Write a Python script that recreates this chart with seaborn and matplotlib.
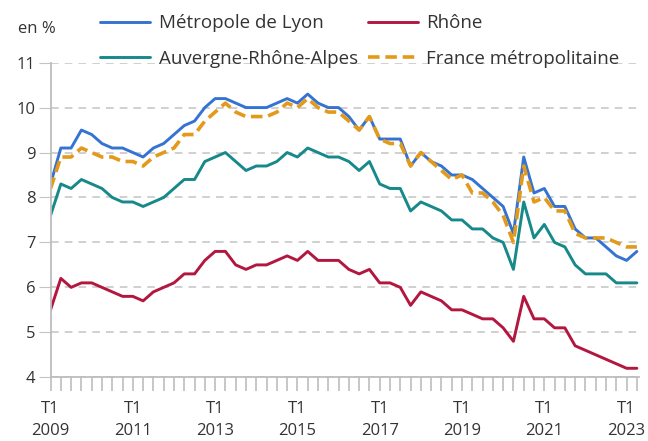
import numpy as np
import pandas as pd
import matplotlib
matplotlib.use("Agg")
import matplotlib.pyplot as plt
import seaborn as sns

# quarterly unemployment rate, 2009 T1 -> 2023 T2
lyon = [8.3, 9.1, 9.1, 9.5, 9.4, 9.2, 9.1, 9.1, 9.0, 8.9, 9.1, 9.2, 9.4, 9.6, 9.7,
        10.0, 10.2, 10.2, 10.1, 10.0, 10.0, 10.0, 10.1, 10.2, 10.1, 10.3, 10.1, 10.0,
        10.0, 9.8, 9.5, 9.8, 9.3, 9.3, 9.3, 8.7, 9.0, 8.8, 8.7, 8.5, 8.5, 8.4, 8.2,
        8.0, 7.8, 7.2, 8.9, 8.1, 8.2, 7.8, 7.8, 7.3, 7.1, 7.1, 6.9, 6.7, 6.6, 6.8]
rhone = [5.5, 6.2, 6.0, 6.1, 6.1, 6.0, 5.9, 5.8, 5.8, 5.7, 5.9, 6.0, 6.1, 6.3, 6.3,
         6.6, 6.8, 6.8, 6.5, 6.4, 6.5, 6.5, 6.6, 6.7, 6.6, 6.8, 6.6, 6.6, 6.6, 6.4,
         6.3, 6.4, 6.1, 6.1, 6.0, 5.6, 5.9, 5.8, 5.7, 5.5, 5.5, 5.4, 5.3, 5.3, 5.1,
         4.8, 5.8, 5.3, 5.3, 5.1, 5.1, 4.7, 4.6, 4.5, 4.4, 4.3, 4.2, 4.2]
ara = [7.6, 8.3, 8.2, 8.4, 8.3, 8.2, 8.0, 7.9, 7.9, 7.8, 7.9, 8.0, 8.2, 8.4, 8.4,
       8.8, 8.9, 9.0, 8.8, 8.6, 8.7, 8.7, 8.8, 9.0, 8.9, 9.1, 9.0, 8.9, 8.9, 8.8,
       8.6, 8.8, 8.3, 8.2, 8.2, 7.7, 7.9, 7.8, 7.7, 7.5, 7.5, 7.3, 7.3, 7.1, 7.0,
       6.4, 7.9, 7.1, 7.4, 7.0, 6.9, 6.5, 6.3, 6.3, 6.3, 6.1, 6.1, 6.1]
france = [8.2, 8.9, 8.9, 9.1, 9.0, 8.9, 8.9, 8.8, 8.8, 8.7, 8.9, 9.0, 9.1, 9.4, 9.4,
          9.7, 9.9, 10.1, 9.9, 9.8, 9.8, 9.8, 9.9, 10.1, 10.0, 10.2, 10.0, 9.9, 9.9,
          9.7, 9.5, 9.8, 9.3, 9.2, 9.2, 8.7, 9.0, 8.8, 8.6, 8.4, 8.5, 8.1, 8.1, 7.9,
          7.6, 7.0, 8.7, 7.9, 8.0, 7.7, 7.7, 7.2, 7.1, 7.1, 7.1, 7.0, 6.9, 6.9]

tick_years = ["2009", "2011", "2013", "2015", "2017", "2019", "2021", "2023"]

names = ["Métropole de Lyon", "Auvergne-Rhône-Alpes", "Rhône", "France métropolitaine"]
series = [lyon, ara, rhone, france]
colors = ["#3573d3", "#17898a", "#b3163f", "#e39a1a"]

sns.set_style("white")
plt.rcParams["font.family"] = ["Open Sans", "DejaVu Sans"]

fig = plt.figure(figsize=(6.48, 4.41), dpi=100)
ax = fig.add_axes([0.078, 0.1445, 0.908, 0.7135])

n = len(lyon)
for name, vals, col in zip(names, series, colors):
    df = pd.DataFrame({"q": np.arange(n), "taux": vals})
    sns.lineplot(data=df, x="q", y="taux", ax=ax, color=col, lw=2.1, label=name)
    if name == "France métropolitaine":
        ax.lines[-1].set_dashes([3.2, 1.6])
        ax.lines[-1].set_linewidth(2.6)

ax.set_xlim(0, n - 0.8)
ax.set_ylim(4, 11)
ax.set_yticks(range(4, 12))
ax.yaxis.grid(True, ls=(0, (5, 4)), color="#c4c4c4", lw=1.1)
ax.set_axisbelow(True)

ax.set_xticks(np.arange(n), minor=True)
ax.set_xticks(np.arange(0, n, 8))
ax.set_xticklabels(["T1\n" + y for y in tick_years], linespacing=1.5)
ax.tick_params(axis="x", which="both", length=10, color="#bdbdbd", width=1.2,
               bottom=True, labelsize=12, labelcolor="#333333", pad=7)
ax.tick_params(axis="y", length=9, color="#c4c4c4", left=True, labelsize=12,
               labelcolor="#333333", pad=2)

for s in ["top", "right"]:
    ax.spines[s].set_visible(False)
for s in ["left", "bottom"]:
    ax.spines[s].set_color("#bdbdbd")
    ax.spines[s].set_linewidth(1.3)
ax.set_xlabel("")
ax.set_ylabel("")

fig.text(0.028, 0.925, "en %", fontsize=12, color="#333333")

ax.legend(ncol=2, loc="upper left", bbox_to_anchor=(0.072, 1.178), frameon=False,
          fontsize=13.5, handlelength=2.65, handletextpad=0.45, columnspacing=0.55,
          labelspacing=0.95, borderaxespad=0, labelcolor="#333333")

fig.savefig("out.png", dpi=100)
